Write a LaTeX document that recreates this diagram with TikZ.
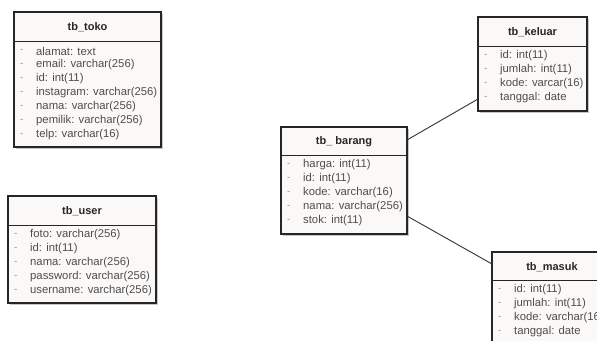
\documentclass[tikz,border=0pt]{standalone}
\usepackage{fontspec}
\setmainfont{Liberation Sans}
\definecolor{boxfill}{HTML}{FBF9F7}
\definecolor{txt}{HTML}{4E4E4E}
\definecolor{dashc}{HTML}{9A9A9A}
\newcommand\erbox[8]{%
  \fill[black!22] (#2+1.8,#3+1.8) rectangle (#4+1.8,#5+1.8);
  \node[tbox, minimum width=#4pt-#2pt, minimum height=#5pt-#3pt] (#1) at (#2,#3) {};
  \draw[divline] (#2,#3+#6) -- (#4,#3+#6);
  \node[ttl] (#1-title) at ({(#2+#4)/2},#3+15) {#7};
  \foreach \r [count=\i] in {#8} {%
    \node[dashtxt] at (#2+6,#3+#6+10+14*\i-14) {-};
    \node[rowtxt] at (#2+22,#3+#6+10+14*\i-14) {\r};
  }%
}
\begin{document}
\begin{tikzpicture}[x=1pt,y=-1pt,
  tbox/.style={draw=black!85, line width=1.1pt, fill=boxfill, inner sep=0pt, outer sep=0pt, anchor=north west},
  divline/.style={draw=black!85, line width=0.9pt},
  ttl/.style={font=\fontsize{11}{13}\selectfont\bfseries, text=black!85, inner sep=0pt},
  rowtxt/.style={font=\fontsize{11.3}{13}\selectfont, text=txt, anchor=west, inner sep=0pt},
  dashtxt/.style={font=\fontsize{10}{12}\selectfont, text=dashc, anchor=west, inner sep=0pt},
  conn/.style={draw=black!80, line width=0.9pt}]
\useasboundingbox (0,0) rectangle (597,340);
\erbox{toko}{14}{12}{161}{147}{29}{tb\_toko}{alamat: text, email: varchar(256), id: int(11), instagram: varchar(256), nama: varchar(256), pemilik: varchar(256), telp: varchar(16)}
\erbox{user}{8}{196}{156}{303}{29}{tb\_user}{foto: varchar(256), id: int(11), nama: varchar(256), password: varchar(256), username: varchar(256)}
\erbox{barang}{281}{127}{407}{234}{28}{tb\_ barang}{harga: int(11), id: int(11), kode: varchar(16), nama: varchar(256), stok: int(11)}
\erbox{keluar}{478}{17}{587}{111}{29}{tb\_keluar}{id: int(11), jumlah: int(11), kode: varcar(16), tanggal: date}
\erbox{masuk}{492}{252}{612}{352}{28}{tb\_masuk}{id: int(11), jumlah: int(11), kode: varchar(16), tanggal: date}
\draw[conn] ([yshift=-13pt]barang.north east) -- ([yshift=12pt]keluar.south west);
\draw[conn] ([yshift=18pt]barang.south east) -- ([yshift=-12pt]masuk.north west);
\end{tikzpicture}
\end{document}
